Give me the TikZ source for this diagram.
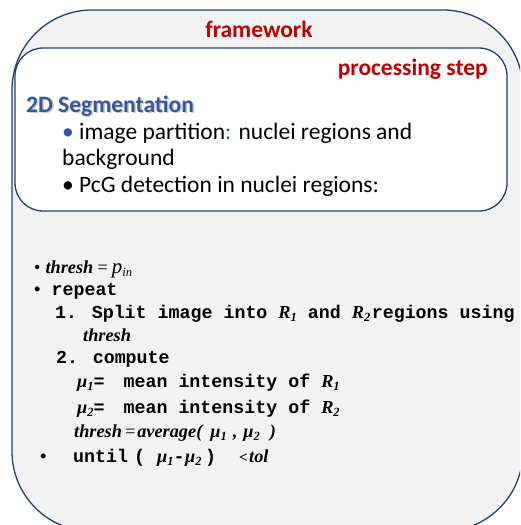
\documentclass[tikz,border=0pt]{standalone}
\usepackage{fontspec}
\setmainfont{Carlito}
\newfontfamily\cour{Liberation Mono}
\newfontfamily\tms{Liberation Serif}

\definecolor{frameblue}{RGB}{38,62,120}
\definecolor{headred}{RGB}{192,0,0}
\definecolor{seghead}{RGB}{52,88,155}
\definecolor{panel}{RGB}{242,242,242}

% bold italic serif pieces, plain italic serif pieces and lowered indices
\newcommand\bi[1]{{\tms\bfseries\itshape #1}}
\newcommand\mi[1]{{\tms\mdseries\itshape #1}}
\newcommand\lowidx[1]{\raisebox{-0.45ex}{\fontsize{12.5}{12.5}\selectfont #1}}

\tikzset{
  panelbox/.style={draw=frameblue, line width=1.3pt, fill=panel, rounded corners=80pt},
  stepbox/.style={draw=frameblue, line width=1.3pt, fill=white, rounded corners=28pt},
  heading/.style={font=\bfseries\fontsize{23.5}{28}\selectfont, text=headred, inner sep=0pt},
  segtitle/.style={font=\bfseries\fontsize{23.5}{28}\selectfont, inner sep=0pt, anchor=base west},
  bodytxt/.style={font=\fontsize{23.5}{28}\selectfont, inner sep=0pt, anchor=base west},
  algo/.style={font=\cour\bfseries\fontsize{18.3}{22}\selectfont, inner sep=0pt, anchor=base west},
}

\begin{document}
\begin{tikzpicture}[x=1pt,y=-1pt]
  \useasboundingbox (0,0) rectangle (520,525);
  \clip (0,0) rectangle (520,525);

  % framework container and the processing step inside it
  \path[panelbox] (12,10) rectangle (523,531.4);
  \path[stepbox] (15,48) rectangle (507,211);

  \node[heading, anchor=base] (fw) at (259,37) {framework};
  \node[heading, anchor=base east] (ps) at (488,75) {processing step};

  % section title with a soft drop shadow
  \node[segtitle, text=black!35, opacity=0.6] (segshadow) at (27.5,113.5) {2D Segmentation};
  \node[segtitle, text=seghead] (seg) at (26,112) {2D Segmentation};

  \node[bodytxt] (b1) at (62,139) {{\color{seghead}•} image partition{\color{seghead}:} nuclei regions and};
  \node[bodytxt] (b2) at (62,165) {background};
  \node[bodytxt] (b3) at (62,192) {• PcG detection in nuclei regions:};

  % thresholding algorithm
  \node[algo] (a1) at (34,273) {{\tms\mdseries•}\hspace{5pt}\bi{thresh}\,\mi{=}\,\mi{\fontsize{21}{21}\selectfont p}\mi{\lowidx{in}}};
  \node[algo] (a2) at (34,295) {{\tms•} repeat};
  \node[algo] (a3) at (55,318) {1. Split image into \bi{R\lowidx{1}} and \bi{R\lowidx{2}}\hspace{1.5pt}regions using};
  \node[algo] (a4) at (83,341) {\bi{thresh}};
  \node[algo] (a5) at (56,363) {2. compute};
  \node[algo] (a6) at (77,387) {\bi{μ\lowidx{1}}=\hspace{19pt}mean intensity of \bi{R\lowidx{1}}};
  \node[algo] (a7) at (77,413) {\bi{μ\lowidx{2}}=\hspace{19pt}mean intensity of \bi{R\lowidx{2}}};
  \node[algo] (a8) at (74,437) {\bi{thresh}\hspace{3pt}{\tms\mdseries=}\hspace{2pt}\bi{average(}\hspace{8pt}\bi{μ\lowidx{1}}\hspace{6pt}\bi{,}\hspace{6pt}\bi{μ\lowidx{2}}\hspace{10pt}\bi{)}};

  % stopping test
  \node[algo] (u0) at (40,462) {{\tms•}};
  \node[algo] (u1) at (73,462) {until};
  \node[algo] (u2) at (134,462) {(};
  \node[algo] (u3) at (157,462) {\bi{μ\lowidx{1}}};
  \node[algo] (u4) at (173.5,462) {-};
  \node[algo] (u5) at (185,462) {\bi{μ\lowidx{2}}};
  \node[algo] (u6) at (205,462) {)};
  \node[algo] (u7) at (239,462) {{\tms\bfseries\fontsize{15}{15}\selectfont <}};
  \node[algo] (u8) at (249,462) {\bi{tol}};
\end{tikzpicture}
\end{document}
